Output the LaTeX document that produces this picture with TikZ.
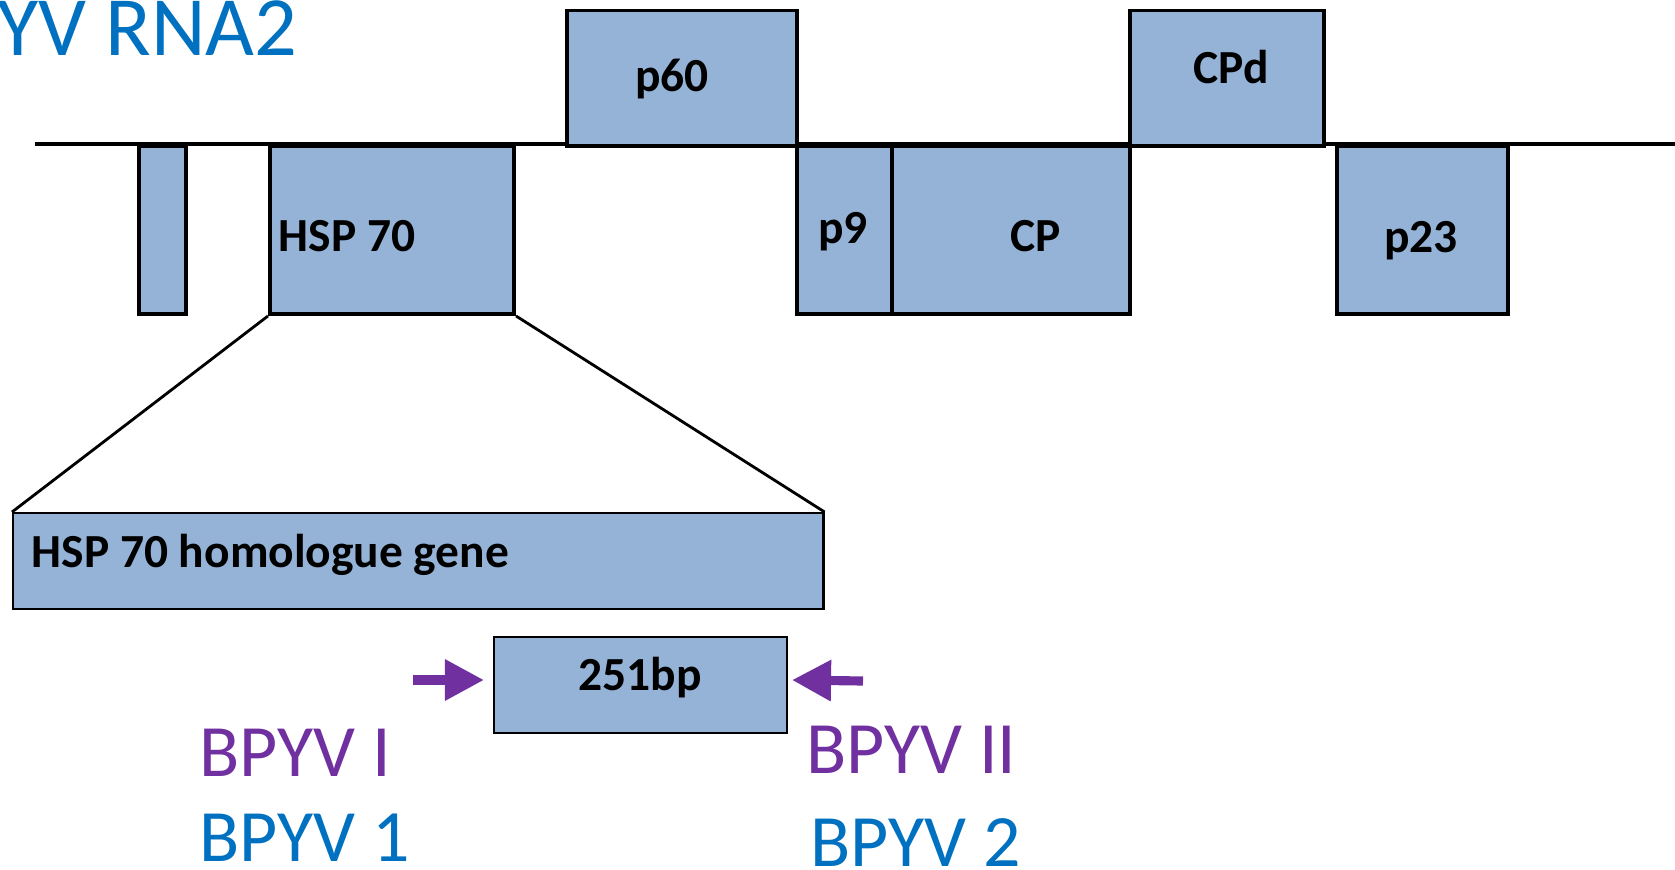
\documentclass[tikz,border=0pt]{standalone}
\usepackage{fontspec}
\setmainfont{Carlito}
\usetikzlibrary{arrows.meta, positioning}
\definecolor{orfblue}{HTML}{95B3D7}
\definecolor{primerpurple}{HTML}{7030A0}
\definecolor{titleblue}{HTML}{0070C0}

\begin{document}
\begin{tikzpicture}[
    x=0.01cm, y=-0.01cm,
    orf/.style={draw=black, line width=1.1pt, fill=orfblue, inner sep=0pt, anchor=north west},
    zoomed/.style={orf, line width=0.6pt},
    tag/.style={inner sep=0pt, anchor=base, font=\fontsize{13.5}{16}\selectfont\bfseries},
    primer/.style={draw=primerpurple, line width=2.6pt, -{Triangle[width=0.39cm, length=0.39cm]}},
    primername/.style={inner sep=0pt, anchor=base west, font=\fontsize{21}{25}\selectfont}
]
   \useasboundingbox (0,0) rectangle (1675,869);
   \clip (0,0) rectangle (1675,869);

   % Title
   \node[inner sep=0pt, anchor=base east, text=titleblue, font=\fontsize{24}{28}\selectfont] (title) at (298,55) {BPYV RNA2};

   % RNA2 backbone
   \coordinate (rna5) at (35,144);
   \coordinate (rna3) at (1675,144);
   \draw[line width=1pt] (rna5) -- (rna3);

   % ORFs
   \node[orf, minimum width=0.47cm, minimum height=1.68cm] (orf1) at (137,144) {};
   \node[orf, minimum width=2.44cm, minimum height=1.68cm] (hsp) at (268,144) {};
   \node[orf, minimum width=2.30cm, minimum height=1.355cm] (p60) at (565,8.5) {};
   \node[orf, minimum width=0.95cm, minimum height=1.68cm] (p9) at (795,144) {};
   \node[orf, minimum width=2.38cm, minimum height=1.68cm] (cp) at (890,144) {};
   \node[orf, minimum width=1.94cm, minimum height=1.355cm] (cpd) at (1128,8.5) {};
   \node[orf, minimum width=1.71cm, minimum height=1.68cm] (p23) at (1335,144) {};

   \node[tag, anchor=base west] (hsplab) at (278,251) {HSP 70};
   \node[tag] (p60lab) at (672,91) {p60};
   \node[tag] (p9lab) at (843,243) {p9};
   \node[tag] (cplab) at (1036,251) {CP};
   \node[tag] (cpdlab) at (1231,83) {CPd};
   \node[tag] (p23lab) at (1421,252) {p23};

   % Zoom on HSP 70
   \node[zoomed, minimum width=8.10cm, minimum height=0.96cm] (gene) at (12,512) {};
   \node[tag, anchor=base west] (genelab) at (31,567) {HSP 70 homologue gene};
   \draw[line width=0.8pt] (hsp.south west) -- (gene.north west);
   \draw[line width=0.8pt] (hsp.south east) -- (gene.north east);

   % Amplicon and primers
   \node[zoomed, minimum width=2.93cm, minimum height=0.96cm] (amp) at (493,636) {};
   \node[tag] (amplab) at (640,690) {251bp};

   \coordinate (fwdtail) at (413,680);
   \coordinate (fwdtip) at (484,680);
   \coordinate (revtail) at (863,681);
   \coordinate (revtip) at (792,680);
   \draw[primer] (fwdtail) -- (fwdtip);
   \draw[primer] (revtail) -- (revtip);

   \node[primername, text=primerpurple] (fwdI) at (199,776) {BPYV I};
   \node[primername, text=titleblue] (fwd1) at (199,861) {BPYV 1};
   \node[primername, text=primerpurple] (revII) at (806,773) {BPYV II};
   \node[primername, text=titleblue] (rev2) at (810,866) {BPYV 2};
\end{tikzpicture}
\end{document}
